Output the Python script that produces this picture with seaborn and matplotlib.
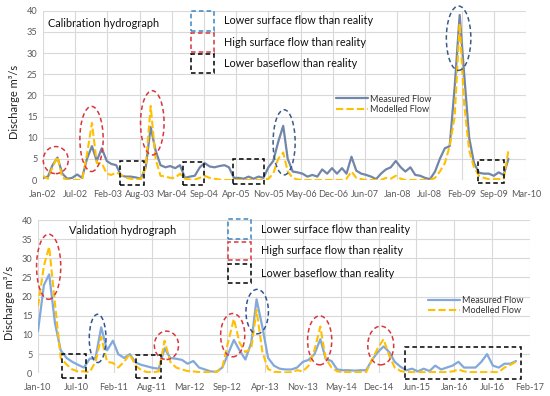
import numpy as np
import pandas as pd
import matplotlib
matplotlib.use("Agg")
import matplotlib.pyplot as plt
import matplotlib.dates as mdates
from matplotlib.patches import Ellipse, Rectangle
import seaborn as sns

# DATA (monthly discharge, m3/s)
TOP_START = "2002-01-01"
TOP_MEASURED = [0.5, 0.8, 3.5, 5.3, 1.5, 0.3, 0.5, 1.3, 0.5, 5.0,
                8.0, 4.5, 7.5, 4.5, 3.8, 3.5, 1.0, 0.8, 0.8, 0.6,
                0.3, 3.0, 12.5, 7.0, 3.5, 3.0, 3.3, 2.8, 3.5, 0.5,
                0.8, 1.0, 3.0, 4.0, 3.2, 3.0, 3.3, 3.5, 3.0, 0.5,
                0.5, 0.3, 0.8, 0.3, 0.8, 0.5, 3.0, 4.5, 9.0, 12.8,
                5.0, 2.0, 1.8, 1.5, 0.8, 1.2, 0.8, 2.5, 1.5, 2.8,
                1.5, 2.8, 1.5, 5.5, 2.2, 1.5, 1.2, 0.8, 0.2, 1.5,
                2.5, 3.0, 4.5, 3.0, 2.0, 3.0, 1.2, 1.0, 0.5, 0.2,
                2.0, 5.0, 7.5, 8.0, 22.0, 39.0, 25.0, 10.0, 4.0, 1.7,
                1.5, 1.5, 1.0, 1.8, 1.2, 5.0]
TOP_MODELLED = [1.0, 0.3, 3.0, 5.5, 0.5, 0.1, 0.0, 0.0, 0.0, 6.0,
                13.5, 4.0, 4.0, 1.5, 1.2, 1.8, 1.2, 0.5, 0.3, 0.1,
                0.2, 3.0, 17.5, 5.0, 1.0, 0.8, 0.5, 0.5, 1.5, 0.3,
                0.1, 0.1, 0.5, 1.0, 0.5, 0.3, 0.1, 0.0, 0.0, 0.0,
                0.0, 0.0, 0.0, 0.0, 0.0, 0.0, 0.3, 1.5, 5.0, 6.5,
                2.0, 0.5, 0.1, 0.0, 0.0, 0.0, 0.0, 0.0, 0.0, 0.0,
                0.0, 0.0, 0.3, 2.0, 0.5, 0.2, 0.0, 0.0, 0.0, 0.0,
                0.5, 0.3, 1.0, 0.3, 0.0, 0.0, 0.0, 0.0, 0.0, 0.0,
                0.5, 2.0, 4.0, 8.0, 15.0, 37.0, 18.0, 7.0, 3.0, 1.0,
                0.5, 0.2, 0.2, 0.2, 0.3, 7.0]
TOP_TICKS = ["Jan-02", "Jul-02", "Feb-03", "Aug-03", "Mar-04", "Sep-04", "Apr-05", "Nov-05",
             "May-06", "Dec-06", "Jun-07", "Jan-08", "Jul-08", "Feb-09", "Sep-09", "Mar-10"]

BOT_START = "2010-01-01"
BOT_MEASURED = [11.0, 23.0, 25.8, 13.0, 6.0, 4.0, 3.0, 2.2, 1.5, 3.8,
                4.0, 12.0, 6.0, 8.5, 5.0, 4.0, 5.0, 2.8, 2.2, 1.8,
                1.4, 1.2, 6.5, 4.0, 3.8, 3.5, 2.5, 3.2, 1.5, 1.0,
                0.5, 0.4, 1.5, 5.0, 8.7, 6.0, 3.6, 8.0, 19.3, 12.0,
                4.0, 2.0, 1.2, 1.0, 1.0, 1.5, 3.0, 3.5, 5.0, 8.9,
                3.8, 3.2, 1.0, 0.8, 0.8, 0.7, 0.8, 0.8, 3.5, 5.5,
                7.0, 5.5, 3.0, 1.7, 0.8, 1.2, 0.5, 1.2, 0.6, 2.0,
                1.0, 1.5, 2.0, 3.0, 1.5, 1.5, 1.5, 3.0, 5.0, 2.0,
                1.5, 2.5, 2.5, 3.2]
BOT_MODELLED = [17.5, 28.0, 33.0, 18.0, 4.0, 2.3, 1.0, 0.5, 0.5, 0.3,
                3.0, 9.5, 3.0, 2.7, 1.5, 3.0, 5.0, 2.0, 0.8, 0.3,
                0.3, 0.5, 8.5, 3.0, 1.5, 1.0, 0.6, 0.5, 0.3, 0.3,
                0.3, 0.3, 1.5, 8.0, 14.2, 8.0, 5.5, 6.5, 16.5, 5.5,
                1.1, 0.4, 0.3, 0.2, 0.3, 0.8, 0.5, 2.0, 6.0, 12.2,
                3.9, 1.5, 0.5, 0.3, 0.3, 0.3, 0.3, 0.3, 3.5, 6.5,
                8.9, 4.5, 1.5, 0.6, 0.3, 0.3, 0.3, 0.3, 0.3, 0.3,
                0.3, 0.3, 0.5, 1.0, 0.5, 0.3, 0.3, 0.3, 0.3, 0.3,
                0.3, 1.5, 2.2, 3.0]
BOT_TICKS = ["Jan-10", "Jul-10", "Feb-11", "Aug-11", "Mar-12", "Sep-12", "Apr-13",
             "Nov-13", "May-14", "Dec-14", "Jun-15", "Jan-16", "Jul-16", "Feb-17"]

# annotation regions: (centre month, centre value, width in months, height, kind)
TOP_ELLIPSES = [(2.6, 4.7, 5.1, 6.4, "high"), (9.9, 9.7, 4.75, 15.4, "high"),
                (22.3, 13.5, 4.8, 15.2, "high"), (49.2, 8.9, 4.5, 15.4, "low"),
                (84.8, 33.5, 5.0, 15.2, "low")]
TOP_BOXES = [(15.7, 20.7, -1.2, 4.4), (28.5, 32.9, -1.2, 4.2),
             (38.7, 45.1, -1.0, 4.9), (88.7, 94.1, -0.8, 4.7)]
BOT_ELLIPSES = [(1.85, 27.8, 4.2, 17.0, "high"), (10.35, 9.1, 2.9, 12.6, "low"),
                (22.3, 7.3, 4.2, 7.4, "high"), (33.8, 9.95, 4.2, 11.3, "high"),
                (38.05, 16.1, 3.9, 11.6, "low"), (48.9, 8.6, 4.2, 12.8, "high"),
                (59.5, 7.25, 4.5, 10.1, "high")]
BOT_BOXES = [(4.1, 8.3, -1.1, 5.0), (17.0, 21.3, -1.1, 4.7), (63.8, 83.8, -1.4, 6.9)]

LEGEND_TEXTS = ["Lower surface flow than reality", "High surface flow than reality",
                "Lower baseflow than reality"]

W, H = 550, 396
RED = "#d9363c"
GOLD = "#ffc000"
GRID = "#d9d9d9"
TXT = "#595959"
DASH = (0, (3, 2))
MONTH = 30.44

sns.set_theme(style="whitegrid")
plt.rcParams["font.family"] = ["Lato", "DejaVu Sans"]

fig = plt.figure(figsize=(W / 100, H / 100), dpi=100)
fig.patch.set_facecolor("white")


def fig_rect(x0, y0, x1, y1):
    # pixel box (top-left origin) -> figure fraction rect
    return [x0 / W, 1 - y1 / H, (x1 - x0) / W, (y1 - y0) / H]


def panel(rect, start, measured, modelled, ticks, meas_color, low_color,
          ellipses, boxes, title, legend_y, square_x, text_x, flow_leg):
    ax = fig.add_axes(fig_rect(*rect))
    dates = pd.date_range(start, periods=len(measured), freq="MS")
    df = pd.DataFrame({"date": dates, "Measured Flow": measured, "Modelled Flow": modelled})
    sns.lineplot(data=df, x="date", y="Measured Flow", ax=ax, color=meas_color, lw=1.6,
                 label="Measured Flow")
    sns.lineplot(data=df, x="date", y="Modelled Flow", ax=ax, color=GOLD, lw=1.5,
                 ls=(0, (3.5, 1.5)), label="Modelled Flow")

    t0 = pd.Timestamp(start)
    tick_pos = pd.date_range(t0, periods=len(ticks), freq="200D")
    ax.set_xlim(tick_pos[0], tick_pos[-1])
    ax.set_xticks(tick_pos)
    ax.set_xticklabels(ticks)
    ax.set_ylim(0, 40)
    ax.set_yticks(range(0, 41, 5))
    ax.grid(True, color=GRID, lw=0.8)
    for s in ax.spines.values():
        s.set_visible(False)
    ax.tick_params(axis="x", length=0, labelsize=6.6, labelcolor=TXT, pad=7)
    ax.tick_params(axis="y", length=0, labelsize=6.6, labelcolor=TXT, pad=4)
    ax.set_xlabel("")
    ax.set_ylabel("Discharge m³/s", fontsize=8, color="#222222")
    ax.yaxis.set_label_coords(-23 / (rect[2] - rect[0]), 0.46)

    base = mdates.date2num(t0)
    for cm, cv, wm, hv, kind in ellipses:
        col = RED if kind == "high" else low_color
        ax.add_patch(Ellipse((base + cm * MONTH, cv), wm * MONTH, hv, fill=False,
                             ec=col, lw=1.1, ls=DASH, clip_on=False, zorder=5))
    for m0, m1, v0, v1 in boxes:
        ax.add_patch(Rectangle((base + m0 * MONTH, v0), (m1 - m0) * MONTH, v1 - v0,
                               fill=False, ec="black", lw=1.1, ls=DASH, clip_on=False, zorder=5))

    ax.text(title[1], title[2], title[0], transform=fig.transFigure, fontsize=7.8,
            color="#111111", ha="left", va="center")

    # shape legend (dashed squares)
    sq_cols = ["#3a86c4", RED, "black"]
    for (y0, y1), col, txt in zip(legend_y, sq_cols, LEGEND_TEXTS):
        fig.add_artist(Rectangle((square_x[0] / W, 1 - y1 / H), (square_x[1] - square_x[0]) / W,
                                 (y1 - y0) / H, transform=fig.transFigure, fill=False,
                                 ec=col, lw=1.1, ls=DASH))
        fig.text(text_x / W, 1 - (y0 + y1) / 2 / H, txt, fontsize=7.8, color="#111111",
                 ha="left", va="center")

    leg = ax.legend(loc="upper left", bbox_to_anchor=flow_leg, bbox_transform=fig.transFigure,
                    frameon=False, fontsize=6.5, handlelength=3.6, handletextpad=0.2,
                    labelspacing=0.15, borderpad=0)
    for t in leg.get_texts():
        t.set_color("#333333")
    return ax


panel((43, 10.7, 526, 180), TOP_START, TOP_MEASURED, TOP_MODELLED, TOP_TICKS,
      "#7186a8", "#3e5b86", TOP_ELLIPSES, TOP_BOXES,
      ("Calibration hydrograph", 47.5 / W, 1 - 23.3 / H),
      [(11, 30.7), (32.7, 52.3), (54, 73.3)], (190.7, 214.3), 224,
      (331 / W, 1 - 90 / H))

panel((38, 220, 530, 373.3), BOT_START, BOT_MEASURED, BOT_MODELLED, BOT_TICKS,
      "#82a8dc", "#2f5597", BOT_ELLIPSES, BOT_BOXES,
      ("Validation hydrograph", 69 / W, 1 - 230.3 / H),
      [(219.3, 239.3), (241.7, 260.3), (263.7, 282.7)], (227.7, 250.7), 261,
      (423 / W, 1 - 291.5 / H))

fig.savefig("out.png", dpi=100, facecolor="white")
